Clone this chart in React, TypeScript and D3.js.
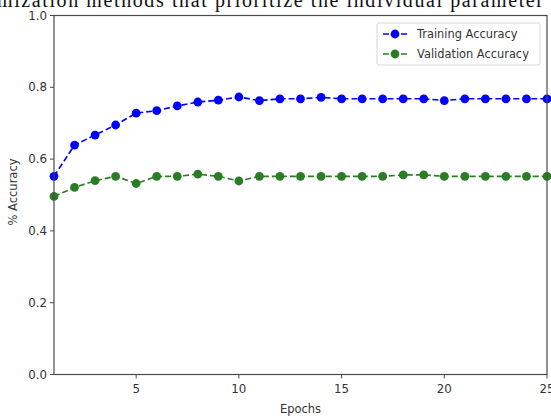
import React from 'react';
import * as d3 from 'd3';

// values (epochs 1..25)
const epochs = d3.range(1, 26);
const trainingAcc = [
  0.552, 0.639, 0.667, 0.695, 0.728, 0.735, 0.748, 0.759, 0.764, 0.773,
  0.763, 0.768, 0.768, 0.772, 0.768, 0.768, 0.768, 0.768, 0.768, 0.763,
  0.768, 0.768, 0.768, 0.768, 0.768,
];
const validationAcc = [
  0.496, 0.521, 0.54, 0.552, 0.532, 0.552, 0.552, 0.558, 0.552, 0.539,
  0.552, 0.552, 0.552, 0.552, 0.552, 0.552, 0.552, 0.556, 0.556, 0.552,
  0.552, 0.552, 0.552, 0.552, 0.552,
];
const xTicks = [5, 10, 15, 20, 25];
const yTicks = [0, 0.2, 0.4, 0.6, 0.8, 1.0];
const seriesNames = ['Training Accuracy', 'Validation Accuracy'];
const seriesColors = ['#0000ff', '#2b7d25'];

const W = 551;
const H = 419;

const App = () => {
  // plot box
  const margin = { top: 15.5, right: 4, bottom: 44.5, left: 54 };
  const x = d3.scaleLinear().domain([1, 25]).range([margin.left, W - margin.right]);
  const y = d3.scaleLinear().domain([0, 1]).range([H - margin.bottom, margin.top]);

  const line = d3.line<number>()
    .x((_, i) => x(epochs[i]))
    .y(d => y(d));

  const series = [trainingAcc, validationAcc];
  const font = '"DejaVu Sans", sans-serif';
  const axisColor = '#4a4a4a';
  const textColor = '#333';

  const legendX = 377;
  const legendY = 23;

  return (
    <svg width={W} height={H} style={{ position: 'absolute', left: 0, top: 0 }}>
      <rect width={W} height={H} fill="#fff" />

      {/* cropped caption text from the page above the figure */}
      <text x={-3} y={7} fontFamily='"Liberation Serif", serif' fontSize={20}
        textLength={546} lengthAdjust="spacing" fill="#111">
        mization methods that prioritize the individual parameter
      </text>

      {/* series */}
      {series.map((vals, si) => (
        <g key={si}>
          <path d={line(vals) ?? ''} fill="none" stroke={seriesColors[si]}
            strokeWidth={1.6} strokeDasharray="6,3" />
          {vals.map((v, i) => (
            <circle key={i} cx={x(epochs[i])} cy={y(v)} r={4.4} fill={seriesColors[si]} />
          ))}
        </g>
      ))}

      {/* frame */}
      <rect x={margin.left} y={margin.top} width={W - margin.right - margin.left}
        height={H - margin.bottom - margin.top} fill="none" stroke={axisColor} strokeWidth={1.2} />

      {/* y axis */}
      {yTicks.map(t => (
        <g key={t}>
          <line x1={margin.left - 4} x2={margin.left} y1={y(t)} y2={y(t)} stroke={axisColor} />
          <text x={margin.left - 7} y={y(t)} dy="0.35em" textAnchor="end"
            fontFamily={font} fontSize={11.8} fill={textColor}>{t.toFixed(1)}</text>
        </g>
      ))}
      <text transform={`translate(17,${(margin.top + H - margin.bottom) / 2 - 3}) rotate(-90)`}
        textAnchor="middle" fontFamily={font} fontSize={11.5} fill={textColor}>% Accuracy</text>

      {/* x axis */}
      {xTicks.map(t => (
        <g key={t}>
          <line x1={x(t)} x2={x(t)} y1={H - margin.bottom} y2={H - margin.bottom + 4} stroke={axisColor} />
          <text x={x(t)} y={H - margin.bottom + 18} textAnchor="middle"
            fontFamily={font} fontSize={11.8} fill={textColor}>{t}</text>
        </g>
      ))}
      <text x={(margin.left + W - margin.right) / 2} y={H - 6} textAnchor="middle"
        fontFamily={font} fontSize={11.5} fill={textColor}>Epochs</text>

      {/* legend */}
      <rect x={legendX} y={legendY} width={163} height={42} rx={2} fill="#fff"
        stroke="#d6d6d6" strokeWidth={1} />
      {seriesNames.map((name, i) => {
        const ly = legendY + 11 + i * 20;
        return (
          <g key={name}>
            <line x1={legendX + 6} x2={legendX + 30} y1={ly} y2={ly} stroke={seriesColors[i]}
              strokeWidth={1.6} strokeDasharray="6,3" />
            <circle cx={legendX + 18} cy={ly} r={4.4} fill={seriesColors[i]} />
            <text x={legendX + 40} y={ly} dy="0.35em" fontFamily={font} fontSize={11.4}
              fill={textColor}>{name}</text>
          </g>
        );
      })}
    </svg>
  );
};

export default App;
